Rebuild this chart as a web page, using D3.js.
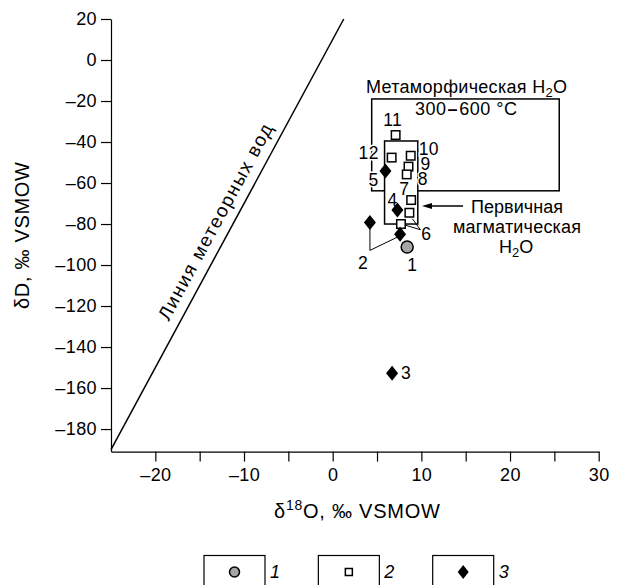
<!DOCTYPE html>
<html><head><meta charset="utf-8">
<script src="https://cdn.jsdelivr.net/npm/d3@7"></script>
<style>
body{margin:0;background:#fff;}
text{font-family:"Liberation Sans",Arial,sans-serif;fill:#000;}
</style></head><body>
<svg id="c" width="627" height="585"></svg>
<script>
// ---- data ----
const xTicks = [-20,-15,-10,-5,0,5,10,15,20,25,30];
const xTickLabels = [-20,-10,0,10,20,30];
const yTicks = [20,0,-20,-40,-60,-80,-100,-120,-140,-160,-180];
const circlePts = [{id:"1", x:8.4, y:-91.2}];
const squarePts = [
  {id:"11", x:7.1, y:-36.6},
  {id:"12", x:6.65, y:-47.6},
  {id:"10", x:8.8, y:-46.7},
  {id:"9", x:8.55, y:-52},
  {id:"8", x:8.35, y:-55.8},
  {id:"7", x:8.85, y:-68.3},
  {id:"6", x:8.65, y:-74.5},
  {id:"6b", x:7.7, y:-80}
];
const diamondPts = [
  {id:"5", x:5.95, y:-54.1},
  {id:"4", x:7.3, y:-73.2},
  {id:"2", x:4.2, y:-79.2},
  {id:"2b", x:7.6, y:-85},
  {id:"3", x:6.7, y:-152.8}
];
const metamorphicBox = {x0:4.4, x1:25.55, y0:-19, y1:-63.8};
const magmaticBox = {x0:5.85, x1:9.6, y0:-39.5, y1:-80};
const meteoric = {slope:8, intercept:10};
const legendItems = ["1","2","3"];

// ---- scales ----
const svg = d3.select("#c");
const x = d3.scaleLinear().domain([-25,30]).range([111,598.7]);
const y = d3.scaleLinear().domain([-191,20]).range([451.6,19]);
const fmt = d => d<0 ? "\u2013"+Math.abs(d) : String(d);

// axes
const xAxis = d3.axisBottom(x).tickValues(xTicks).tickSize(10).tickSizeOuter(0)
  .tickFormat(d => xTickLabels.includes(d) ? fmt(d) : "");
const gx = svg.append("g").attr("transform",`translate(0,${y(-191)})`).call(xAxis);
gx.selectAll("text").attr("font-size",18).attr("dy","0.9em").attr("letter-spacing",0.4);
const yAxis = d3.axisLeft(y).tickValues(yTicks).tickSize(10).tickSizeOuter(0).tickFormat(fmt);
const gy = svg.append("g").attr("transform",`translate(${x(-25)},0)`).call(yAxis);
gy.selectAll("text").attr("font-size",18).attr("x",-14).attr("letter-spacing",0.4);
svg.selectAll(".domain, .tick line").attr("stroke","#000").attr("stroke-width",1.2);
svg.selectAll(".tick text").style("font-family","'Liberation Sans',Arial,sans-serif");

// axis titles
const xt = svg.append("text").attr("x",274).attr("y",518).attr("font-size",20)
  .attr("textLength",166).attr("lengthAdjust","spacing");
xt.append("tspan").text("\u03b4");
xt.append("tspan").text("18").attr("font-size",14).attr("dy",-8);
xt.append("tspan").text("O, \u2030 VSMOW").attr("dy",8);
svg.append("text").attr("transform","translate(29,309) rotate(-90)")
  .attr("font-size",20).attr("textLength",147).attr("lengthAdjust","spacing").text("\u03b4D, \u2030 VSMOW");

// meteoric line
const mx0 = -25, mx1 = (20-meteoric.intercept)/meteoric.slope;
svg.append("line").attr("x1",x(mx0)).attr("y1",y(meteoric.slope*mx0+meteoric.intercept))
  .attr("x2",x(mx1)).attr("y2",y(meteoric.slope*mx1+meteoric.intercept))
  .attr("stroke","#000").attr("stroke-width",1.5);
{
  const mxc = -11.6, px = x(mxc), py = y(meteoric.slope*mxc+meteoric.intercept);
  const ang = Math.atan2(y(meteoric.slope*mx1+meteoric.intercept)-y(meteoric.slope*mx0+meteoric.intercept), x(mx1)-x(mx0))*180/Math.PI;
  svg.append("text").attr("transform",`translate(${px},${py}) rotate(${ang})`)
    .attr("x",-110).attr("dy",-10).attr("font-size",19)
    .attr("textLength",220).attr("lengthAdjust","spacing").text("Линия метеорных вод");
}

// metamorphic box
svg.append("rect").attr("x",x(metamorphicBox.x0)).attr("y",y(metamorphicBox.y0))
  .attr("width",x(metamorphicBox.x1)-x(metamorphicBox.x0)).attr("height",y(metamorphicBox.y1)-y(metamorphicBox.y0))
  .attr("fill","none").attr("stroke","#000").attr("stroke-width",1.5);
// magmatic box
svg.append("rect").attr("x",x(magmaticBox.x0)).attr("y",y(magmaticBox.y0))
  .attr("width",x(magmaticBox.x1)-x(magmaticBox.x0)).attr("height",y(magmaticBox.y1)-y(magmaticBox.y0))
  .attr("fill","#fff").attr("stroke","#000").attr("stroke-width",1.5);

// box titles
const mt = svg.append("text").attr("x",366).attr("y",93).attr("font-size",18)
  .attr("textLength",201).attr("lengthAdjust","spacing");
mt.append("tspan").text("Метаморфическая H");
mt.append("tspan").text("2").attr("font-size",13).attr("dy",4);
mt.append("tspan").text("O").attr("dy",-4);
const tt = svg.append("text").attr("x",415).attr("y",115).attr("font-size",18)
  .attr("textLength",102).attr("lengthAdjust","spacing");
tt.append("tspan").text("300");
tt.append("tspan").text("\u2013").attr("font-weight","bold").attr("dx",1);
tt.append("tspan").text("600 °C").attr("dx",1);

// magmatic caption + arrow
const cap = (t,yy,w)=>svg.append("text").attr("x",517-w/2).attr("y",yy).attr("font-size",18)
  .attr("textLength",w).attr("lengthAdjust","spacing").text(t);
cap("Первичная",213,92);
cap("магматическая",233,128);
const h2 = svg.append("text").attr("x",499).attr("y",253).attr("font-size",18);
h2.append("tspan").text("H");
h2.append("tspan").text("2").attr("font-size",13).attr("dy",4);
h2.append("tspan").text("O").attr("dy",-4);
svg.append("line").attr("x1",428).attr("x2",463).attr("y1",206).attr("y2",206).attr("stroke","#000").attr("stroke-width",1.3);
svg.append("path").attr("d","M422,206 L432,203 L432,209 Z").attr("fill","#000");

// leader lines
const P = (arr,id) => { const d = arr.find(e=>e.id===id); return [x(d.x),y(d.y)]; };
{
  const s6 = P(squarePts,"6"), s6b = P(squarePts,"6b");
  const o = [s6[0]+11, s6[1]+17];
  svg.append("path").attr("d",`M${o[0]},${o[1]}L${s6[0]+3},${s6[1]+6}M${o[0]},${o[1]}L${s6b[0]+4},${s6b[1]+1}`)
    .attr("stroke","#000").attr("fill","none").attr("stroke-width",1);
  const d2 = P(diamondPts,"2"), d2b = P(diamondPts,"2b");
  const b = [d2[0], d2[1]+28];
  svg.append("path").attr("d",`M${d2[0]},${d2[1]+5}L${b[0]},${b[1]}L${d2b[0]-3},${d2b[1]+3}`)
    .attr("stroke","#000").attr("fill","none").attr("stroke-width",1);
}

// labels (with white knock-out)
const labelOffsets = {"11":[-3,-15],"12":[-23,-5],"10":[18,-7],"9":[17,-3],"8":[16,5],"5":[-12,9],"7":[-7,-11],"4":[-5,-10],"6":[17,21],"2":[-7,41],"1":[5,18],"3":[14,0]};
const all = [...circlePts,...squarePts,...diamondPts];
all.filter(d=>labelOffsets[d.id]).forEach(d=>{
  const o = labelOffsets[d.id];
  svg.append("text").attr("x",x(d.x)+o[0]).attr("y",y(d.y)+o[1]).attr("text-anchor","middle")
    .attr("dominant-baseline","central").attr("font-size",17.5).attr("letter-spacing",0.3)
    .attr("stroke","#fff").attr("stroke-width",3).attr("paint-order","stroke").style("stroke","#fff").text(d.id);
});

// symbols
const symSquare = (g,cx,cy,s)=>g.append("rect").attr("x",cx-s/2).attr("y",cy-s/2).attr("width",s).attr("height",s)
  .attr("fill","#fff").attr("stroke","#000").attr("stroke-width",1.5);
const symDiamond = (g,cx,cy,w,h)=>g.append("path").attr("d",`M${cx},${cy-h/2}L${cx+w/2},${cy}L${cx},${cy+h/2}L${cx-w/2},${cy}Z`).attr("fill","#000");
const symCircle = (g,cx,cy,r)=>g.append("circle").attr("cx",cx).attr("cy",cy).attr("r",r).attr("fill","#a6a6a6").attr("stroke","#000").attr("stroke-width",1.5);

squarePts.forEach(d=>symSquare(svg,x(d.x),y(d.y),8.5));
diamondPts.forEach(d=>symDiamond(svg,x(d.x),y(d.y),12,15));
circlePts.forEach(d=>symCircle(svg,x(d.x),y(d.y),6));

// legend
const legX = d3.scalePoint().domain(legendItems).range([204,432.7]);
legendItems.forEach(k=>{
  const bx = legX(k), bw = 61;
  svg.append("rect").attr("x",bx).attr("y",555.5).attr("width",bw).attr("height",40)
    .attr("fill","none").attr("stroke","#000").attr("stroke-width",1.2);
  const cx = bx+bw/2, cy = 572;
  if(k==="1") symCircle(svg,cx,cy,5);
  if(k==="2") symSquare(svg,cx,cy,7);
  if(k==="3") symDiamond(svg,cx,cy,11,14);
  svg.append("text").attr("x",bx+bw+5).attr("y",578).attr("font-size",18).attr("font-style","italic").text(k);
});
</script></body></html>
